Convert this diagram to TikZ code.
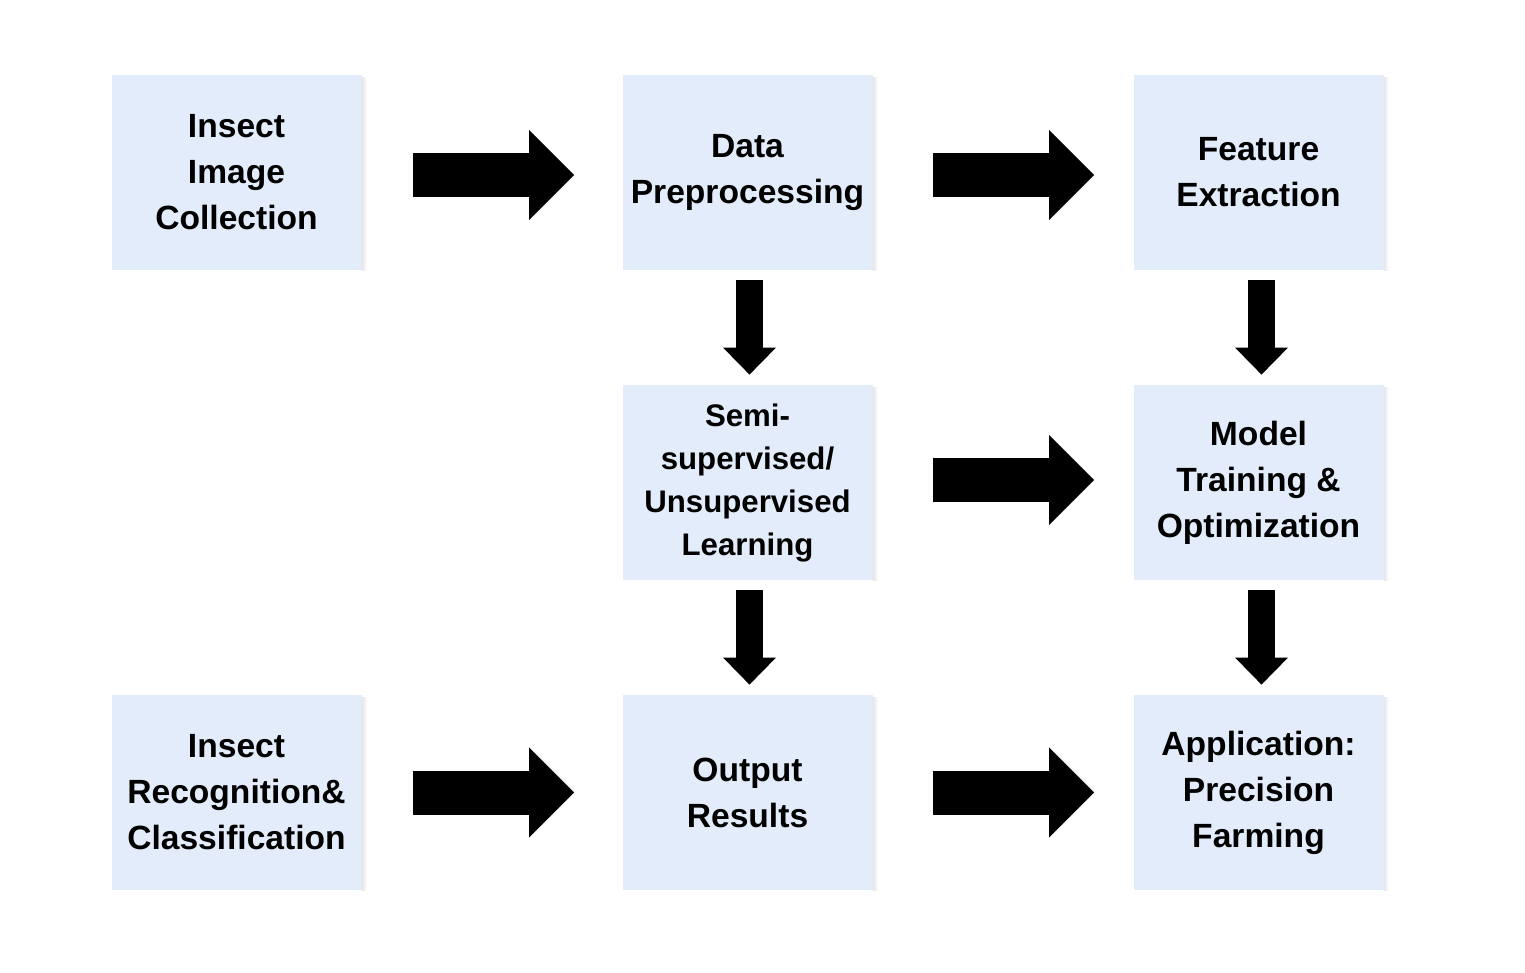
\documentclass[tikz,border=0pt]{standalone}
\usepackage{fontspec}
\setmainfont{Liberation Sans}
\usetikzlibrary{arrows.meta}
\definecolor{boxblue}{HTML}{E3ECFA}

\tikzset{
  stage/.style={rectangle, fill=boxblue, minimum width=125pt, minimum height=97.5pt,
    inner sep=0pt, align=center, font=\fontsize{16.8}{23}\selectfont\bfseries},
  bigarrow/.style={line width=22pt, -{Triangle[line width=0pt, length=22.5pt, width=45pt]}},
  downarrow/.style={line width=13.5pt, -{Triangle[line width=0pt, length=13.5pt, width=26.5pt]},
    shorten <=5pt, shorten >=5pt},
  boxshade/.style={left color=black!10, right color=white, draw=none}
}

\begin{document}
\begin{tikzpicture}[x=0.5pt,y=0.5pt,yscale=-1,xscale=1]
  \useasboundingbox (0,0) rectangle (1525,973);

  % stages
  \node[stage] (collect) at (236.5,172.5) {Insect\\Image\\Collection};
  \node[stage] (prep) at (747.5,172.5) {Data\\Preprocessing};
  \node[stage] (feat) at (1258.5,172.5) {Feature\\Extraction};
  \node[stage, font=\fontsize{15.6}{21.5}\selectfont\bfseries] (semi) at (747.5,482.5) {Semi-\\supervised/\\Unsupervised\\Learning};
  \node[stage] (train) at (1258.5,482.5) {Model\\Training \&\\Optimization};
  \node[stage] (recog) at (236.5,792.5) {Insect\\Recognition\&\\Classification};
  \node[stage] (output) at (747.5,792.5) {Output\\Results};
  \node[stage] (apply) at (1258.5,792.5) {Application:\\Precision\\Farming};

  % soft edge on the right of each box
  \foreach \n in {collect,prep,feat,semi,train,recog,output,apply}
    \fill[boxshade] ([yshift=1.5pt]\n.north east) rectangle ([xshift=2.5pt]\n.south east);

  % horizontal flow
  \draw[bigarrow, shorten <=25.5pt, shorten >=24pt] ([yshift=1.25pt]collect.east) -- ([yshift=1.25pt]prep.west);
  \draw[bigarrow, shorten <=30pt, shorten >=19.5pt] ([yshift=1.25pt]prep.east) -- ([yshift=1.25pt]feat.west);
  \draw[bigarrow, shorten <=30pt, shorten >=19.5pt] ([yshift=-1.25pt]semi.east) -- ([yshift=-1.25pt]train.west);
  \draw[bigarrow, shorten <=25.5pt, shorten >=24pt] (recog) -- (output);
  \draw[bigarrow, shorten <=30pt, shorten >=19.5pt] (output) -- (apply);

  % vertical flow
  \draw[downarrow] ([xshift=1pt]prep.south) -- ([xshift=1pt]semi.north);
  \draw[downarrow] ([xshift=1.5pt]feat.south) -- ([xshift=1.5pt]train.north);
  \draw[downarrow] ([xshift=1pt]semi.south) -- ([xshift=1pt]output.north);
  \draw[downarrow] ([xshift=1.5pt]train.south) -- ([xshift=1.5pt]apply.north);
\end{tikzpicture}
\end{document}
